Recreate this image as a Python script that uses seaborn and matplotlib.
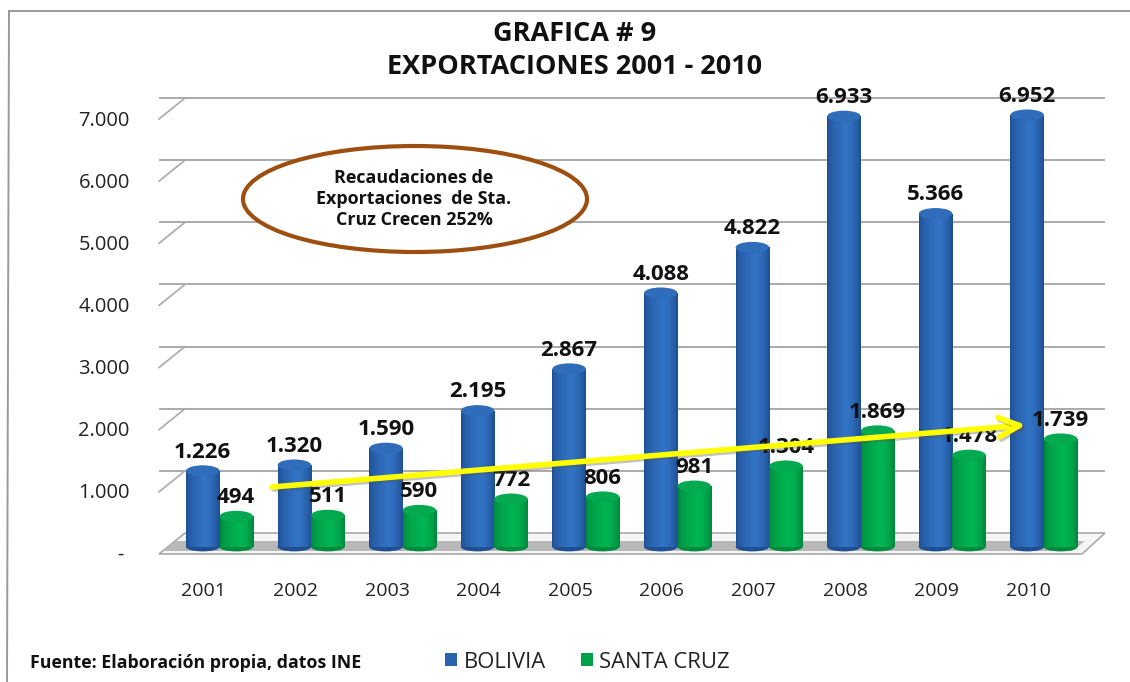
import matplotlib
matplotlib.use('Agg')
import matplotlib.pyplot as plt
from matplotlib.lines import Line2D
from matplotlib.patches import Ellipse, Polygon
from matplotlib.transforms import offset_copy, ScaledTranslation
import matplotlib.patheffects as pe
import numpy as np
import pandas as pd
import seaborn as sns

years = ['2001', '2002', '2003', '2004', '2005', '2006', '2007', '2008', '2009', '2010']
bolivia = [1226, 1320, 1590, 2195, 2867, 4088, 4822, 6933, 5366, 6952]
santa_cruz = [494, 511, 590, 772, 806, 981, 1304, 1869, 1478, 1739]
yticks = [0, 1000, 2000, 3000, 4000, 5000, 6000, 7000]
ylabels = ['- ', '1.000', '2.000', '3.000', '4.000', '5.000', '6.000', '7.000']
series = ['BOLIVIA', 'SANTA CRUZ']

W, H = 1130, 682
FONT = 'Open Sans'
plt.rcParams['font.family'] = [FONT, 'DejaVu Sans']

df = pd.DataFrame({
    'year': years * 2,
    'value': bolivia + santa_cruz,
    'serie': [series[0]] * 10 + [series[1]] * 10,
})

def fx(px):
    return px / W

def fy(py):
    return 1 - py / H

# axes box in pixels, zero of the bars sits at y=547
left, right, top, bottom = 159, 1105, 75, 554
scale = 62.14 / 1000.0
fig = plt.figure(figsize=(W / 100, H / 100), dpi=100, facecolor='white')
ax = fig.add_axes([fx(left), fy(bottom), (right - left) / W, (bottom - top) / H])
ax.set_zorder(2)

sns.barplot(data=df, x='year', y='value', hue='serie', order=years, hue_order=series,
            palette=['#2a62ad', '#00a04a'], width=0.73, gap=0, saturation=1, ax=ax, zorder=3)

ax.set_xlim((left - 219.5) / 91.6, (right - 219.5) / 91.6)
ax.set_ylim(-(bottom - 547) / scale, (547 - top) / scale)
ax.patch.set_alpha(0)
sns.despine(ax=ax, left=True, bottom=True)
ax.set_xlabel('')
ax.set_ylabel('')

# 3d look: back wall lines, slanted ticks, floor
back = offset_copy(ax.transData, fig=fig, x=0, y=14, units='dots')
xl = ax.get_xlim()
for v in yticks[1:]:
    ax.plot(xl, [v, v], color='#aaaaaa', lw=1.4, transform=back, zorder=1, clip_on=False,
            solid_capstyle='butt')

def px_line(xs, ys, **kw):
    fig.add_artist(Line2D([fx(x) for x in xs], [fy(y) for y in ys], **kw))

for v in yticks[1:]:
    y0 = 554 - v * scale
    px_line([159, 185], [y0, y0 - 21], color='#aaaaaa', lw=1.2, zorder=1)

fig.patches.append(Polygon([(fx(159), fy(554)), (fx(185), fy(533)), (fx(1105), fy(533)), (fx(1082), fy(554))],
                           closed=True, transform=fig.transFigure, facecolor='#f6f6f6',
                           edgecolor='#aaaaaa', lw=1.2, zorder=0))
fig.patches.append(Polygon([(fx(176), fy(541)), (fx(1085), fy(541)), (fx(1072), fy(551)), (fx(164), fy(551))],
                           closed=True, transform=fig.transFigure, facecolor='#b8b8b8',
                           edgecolor='none', zorder=0))

# cylinders on top of the seaborn bars
def shade(edge, light):
    c0, c2 = [np.array(matplotlib.colors.to_rgb(c)) for c in (edge, light)]
    t = np.linspace(0, 1, 40)
    out = []
    for a in t:
        if a < 0.55:
            out.append(c0 + (c2 - c0) * (a / 0.55) ** 0.6)
        else:
            out.append(c2 + (c0 - c2) * ((a - 0.55) / 0.45) ** 1.8)
    return np.array(out)[None, :, :]

cap_h = 11 / scale
styles = [('#1f4f93', '#3273c4', '#2f6cba'), ('#008a3e', '#00b552', '#04a950')]
n_bars = len(years)
for i, p in enumerate(ax.patches[:2 * n_bars]):
    edge, light, cap = styles[0 if i < n_bars else 1]
    x0, w, h = p.get_x(), p.get_width(), p.get_height()
    p.set_edgecolor('none')
    im = ax.imshow(shade(edge, light), extent=[x0, x0 + w, 0, h], aspect='auto', zorder=3.1)
    im.set_clip_path(p)
    ax.add_patch(Ellipse((x0 + w / 2, 0), w, cap_h * 0.8, facecolor=edge, edgecolor='none', zorder=3))
    ax.add_patch(Ellipse((x0 + w / 2, h), w, cap_h, facecolor=cap, edgecolor='none', zorder=3.2))

ax.set_xlim((left - 219.5) / 91.6, (right - 219.5) / 91.6)
ax.set_ylim(-(bottom - 547) / scale, (547 - top) / scale)

# value labels with dot as thousands separator
for i, p in enumerate(ax.patches[:2 * n_bars]):
    val = p.get_height()
    lab = f'{int(round(val)):,}'.replace(',', '.')
    ax.annotate(lab, (p.get_x() + p.get_width() / 2, val), xytext=(0, 13.5), textcoords='offset points',
                ha='center', va='center', fontsize=16, fontweight='bold', color='#111111', zorder=5)

# ticks, the labels hang off the front of the floor
ax.set_yticks(yticks)
ax.set_yticklabels(ylabels)
ax.set_xticks(np.arange(10) - 0.17)
ax.set_xticklabels(years)
ax.tick_params(axis='x', length=0, labelsize=14, labelcolor='#222222', pad=20)
ax.tick_params(axis='y', length=0, labelsize=14.5, labelcolor='#222222', pad=21)
shift = ScaledTranslation(0, -6 / 100, fig.dpi_scale_trans)
for t in ax.get_yticklabels():
    t.set_transform(t.get_transform() + shift)

# title and source
fig.text(fx(575), fy(34), 'GRAFICA # 9', ha='center', va='center', fontsize=19.5, fontweight='bold', color='#111111')
fig.text(fx(575), fy(67), 'EXPORTACIONES 2001 - 2010', ha='center', va='center', fontsize=19.5, fontweight='bold', color='#111111')
fig.text(fx(30), fy(663), 'Fuente: Elaboración propia, datos INE', ha='left', va='center', fontsize=12.8, fontweight='bold', color='#111111')

# callout
oval = Ellipse((fx(415), fy(199)), 344 / W, 106 / H, transform=fig.transFigure, facecolor='white',
               edgecolor='#9c4f10', lw=3, zorder=6)
fig.add_artist(oval)
fig.text(fx(414), fy(199), 'Recaudaciones de\nExportaciones  de Sta.\nCruz Crecen 252%', ha='center', va='center',
         fontsize=12.9, fontweight='bold', color='#111111', linespacing=1.22, zorder=7)

# trend arrow
arrow = ax.annotate('', xy=(fx(1026), fy(425)), xytext=(fx(272), fy(487)), xycoords='figure fraction',
                    textcoords='figure fraction', zorder=8,
                    arrowprops=dict(arrowstyle='->,head_length=1.5,head_width=0.7', color='#ffff00', lw=4,
                                    shrinkA=0, shrinkB=0,
                                    path_effects=[pe.SimpleLineShadow(offset=(1.5, -1.5), shadow_color='#555555', alpha=0.35), pe.Normal()]))

# outer frame, open on the right and bottom
px_line([9, 1130], [11, 11], color='#9a9a9a', lw=1.4, zorder=9)
px_line([9, 7], [11, 682], color='#9a9a9a', lw=1.4, zorder=9)

sns.move_legend(ax, 'center left', bbox_to_anchor=(fx(425), fy(662)), bbox_transform=fig.transFigure,
                ncol=2, frameon=False, title=None, fontsize=15.8, handlelength=0.55, handleheight=0.55,
                handletextpad=0.3, columnspacing=1.6, labelcolor='#222222')

fig.savefig('out.png', dpi=100, facecolor='white')
